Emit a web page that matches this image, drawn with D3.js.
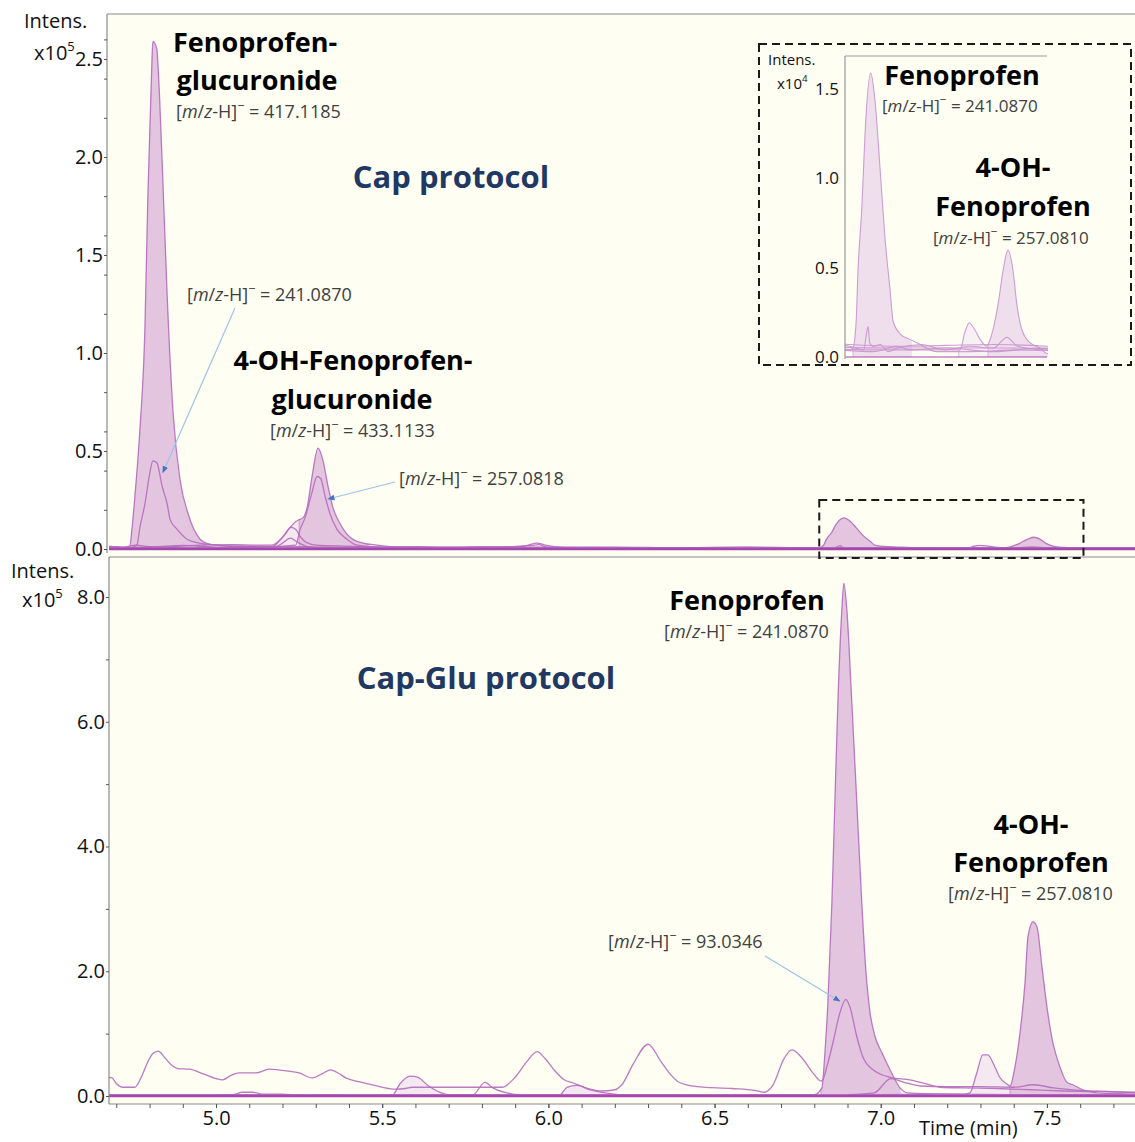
<!DOCTYPE html>
<html>
<head>
<meta charset="utf-8">
<script src="https://cdn.jsdelivr.net/npm/d3@7"></script>
<style>
  body { margin: 0; background: #ffffff; }
  svg { display: block; }
  text { font-family: "Open Sans", "DejaVu Sans", sans-serif; }
</style>
</head>
<body>
<svg id="chart" width="1135" height="1142"></svg>
<script>
// ---- data: [time (min), intensity (x10^5)] ----

// Cap protocol (top panel)
const capEic417 = [[4.678,0.01],[4.70,0.012],[4.72,0.008],[4.74,0.01],[4.747,0.1],[4.756,0.27],[4.771,0.61],[4.786,1.12],[4.795,1.8],[4.807,2.48],[4.81,2.59],[4.822,2.55],[4.825,2.48],[4.838,1.97],[4.853,1.29],[4.871,0.69],[4.892,0.35],[4.916,0.18],[4.952,0.05],[4.97,0.03],[5.0,0.02],[5.1,0.015],[5.2,0.012],[5.3,0.01],[5.5,0.008],[5.8,0.01],[6.2,0.006],[6.6,0.008],[7.0,0.006],[7.4,0.007],[7.765,0.005]];
const capEic241 = [[4.678,0.005],[4.74,0.005],[4.762,0.02],[4.771,0.11],[4.786,0.23],[4.80,0.38],[4.81,0.45],[4.822,0.44],[4.838,0.32],[4.853,0.23],[4.862,0.15],[4.883,0.1],[4.913,0.05],[4.95,0.03],[5.0,0.02],[5.1,0.01],[5.3,0.008],[5.6,0.006],[6.0,0.008],[6.4,0.005],[6.7,0.004],[6.8,0.004],[6.815,0.005],[6.828,0.019],[6.836,0.048],[6.853,0.086],[6.865,0.124],[6.889,0.159],[6.907,0.143],[6.928,0.105],[6.948,0.067],[6.969,0.038],[6.982,0.02],[7.011,0.013],[7.05,0.01],[7.081,0.008],[7.165,0.003],[7.3,0.003],[7.5,0.004],[7.765,0.003]];
const capEic433 = [[4.678,0.008],[4.8,0.01],[4.9,0.015],[4.95,0.02],[5.05,0.022],[5.12,0.02],[5.168,0.02],[5.2,0.06],[5.223,0.11],[5.24,0.14],[5.25,0.15],[5.262,0.16],[5.274,0.21],[5.289,0.37],[5.307,0.515],[5.322,0.45],[5.337,0.32],[5.352,0.21],[5.373,0.13],[5.403,0.06],[5.442,0.03],[5.484,0.02],[5.55,0.01],[5.7,0.008],[6.0,0.006],[6.5,0.006],[7.0,0.005],[7.5,0.005],[7.765,0.004]];
const capEic257 = [[4.678,0.005],[4.9,0.006],[5.1,0.008],[5.24,0.02],[5.253,0.1],[5.268,0.16],[5.289,0.29],[5.304,0.37],[5.315,0.36],[5.328,0.27],[5.343,0.18],[5.364,0.1],[5.394,0.05],[5.424,0.02],[5.5,0.01],[5.7,0.006],[5.9,0.008],[6.2,0.005],[6.6,0.005],[6.9,0.004],[7.1,0.004],[7.2,0.004],[7.26,0.004],[7.281,0.014],[7.298,0.019],[7.323,0.015],[7.343,0.01],[7.372,0.006],[7.377,0.007],[7.397,0.015],[7.418,0.029],[7.439,0.048],[7.46,0.06],[7.481,0.048],[7.497,0.029],[7.518,0.015],[7.551,0.008],[7.593,0.005],[7.622,0.002],[7.765,0.003]];
const capNoiseA = [[4.678,0.015],[4.72,0.01],[4.76,0.02],[4.8,0.012],[4.9,0.018],[5.0,0.01],[5.1,0.012],[5.168,0.01],[5.19,0.04],[5.205,0.07],[5.225,0.11],[5.24,0.1],[5.255,0.06],[5.27,0.035],[5.3,0.02],[5.4,0.015],[5.5,0.01],[5.6,0.012],[5.7,0.008],[5.8,0.012],[5.9,0.01],[5.94,0.02],[5.966,0.03],[5.99,0.02],[6.05,0.008],[6.2,0.01],[6.4,0.006],[6.6,0.009],[6.8,0.006],[6.86,0.004],[6.87,0.012],[6.878,0.017],[6.885,0.008],[6.9,0.006],[6.93,0.007],[6.96,0.003],[7.0,0.005],[7.1,0.007],[7.2,0.004],[7.3,0.006],[7.4,0.005],[7.455,0.011],[7.5,0.006],[7.6,0.004],[7.765,0.006]];
const capNoiseB = [[4.678,0.005],[4.8,0.008],[5.0,0.004],[5.17,0.005],[5.2,0.03],[5.223,0.055],[5.245,0.035],[5.27,0.015],[5.3,0.006],[5.5,0.005],[5.7,0.004],[5.95,0.018],[5.97,0.022],[6.0,0.008],[6.3,0.004],[6.6,0.005],[6.9,0.003],[7.0,0.006],[7.05,0.004],[7.2,0.005],[7.4,0.003],[7.6,0.005],[7.765,0.004]];

// Cap-Glu protocol (bottom panel)
const gluEic241 = [[4.678,0.02],[5.0,0.02],[5.5,0.02],[6.0,0.02],[6.5,0.02],[6.8,0.02],[6.823,0.13],[6.832,0.69],[6.841,1.49],[6.853,3.09],[6.862,4.7],[6.871,6.3],[6.883,7.79],[6.889,8.22],[6.898,7.79],[6.913,6.3],[6.928,4.7],[6.943,3.09],[6.955,2.02],[6.968,1.33],[6.983,0.95],[7.004,0.69],[7.028,0.42],[7.058,0.13],[7.08,0.05],[7.2,0.03],[7.5,0.02],[7.765,0.02]];
const gluEic257 = [[4.678,0.01],[5.0,0.01],[5.5,0.01],[6.0,0.01],[6.5,0.01],[7.0,0.02],[7.2,0.03],[7.25,0.03],[7.268,0.05],[7.289,0.37],[7.307,0.66],[7.322,0.66],[7.343,0.47],[7.358,0.3],[7.383,0.18],[7.389,0.16],[7.404,0.47],[7.419,1.01],[7.434,1.81],[7.443,2.55],[7.458,2.79],[7.47,2.71],[7.485,2.07],[7.5,1.43],[7.518,0.85],[7.539,0.47],[7.56,0.22],[7.578,0.18],[7.608,0.1],[7.65,0.05],[7.7,0.04],[7.765,0.03]];
const gluEic093 = [[4.678,0.3],[4.687,0.29],[4.70,0.2],[4.72,0.14],[4.756,0.14],[4.775,0.3],[4.795,0.55],[4.81,0.68],[4.826,0.72],[4.845,0.62],[4.865,0.5],[4.885,0.44],[4.92,0.43],[4.96,0.36],[5.0,0.28],[5.02,0.26],[5.045,0.33],[5.07,0.37],[5.12,0.37],[5.16,0.43],[5.2,0.41],[5.25,0.37],[5.29,0.29],[5.32,0.36],[5.345,0.42],[5.37,0.36],[5.39,0.29],[5.43,0.23],[5.47,0.18],[5.54,0.11],[5.57,0.12],[5.59,0.14],[5.65,0.14],[5.72,0.14],[5.8,0.14],[5.86,0.14],[5.9,0.3],[5.935,0.55],[5.966,0.71],[5.99,0.6],[6.02,0.4],[6.045,0.27],[6.08,0.2],[6.12,0.12],[6.16,0.08],[6.2,0.1],[6.221,0.18],[6.255,0.51],[6.3,0.83],[6.339,0.55],[6.37,0.33],[6.393,0.22],[6.447,0.15],[6.552,0.12],[6.62,0.09],[6.649,0.06],[6.676,0.18],[6.709,0.6],[6.733,0.74],[6.76,0.63],[6.799,0.35],[6.82,0.24],[6.829,0.3],[6.838,0.47],[6.856,0.85],[6.877,1.33],[6.895,1.55],[6.907,1.43],[6.928,0.95],[6.946,0.63],[6.977,0.42],[7.028,0.3],[7.088,0.26],[7.148,0.18],[7.178,0.14],[7.25,0.13],[7.35,0.12],[7.45,0.1],[7.55,0.08],[7.65,0.07],[7.765,0.06]];
const gluNoiseA = [[4.678,0.01],[5.0,0.01],[5.05,0.02],[5.08,0.06],[5.11,0.06],[5.14,0.03],[5.2,0.03],[5.25,0.01],[5.35,0.02],[5.4,0.01],[5.53,0.01],[5.554,0.2],[5.584,0.32],[5.608,0.3],[5.635,0.18],[5.665,0.08],[5.704,0.02],[5.773,0.02],[5.809,0.22],[5.833,0.13],[5.875,0.05],[5.915,0.02],[6.035,0.02],[6.056,0.14],[6.086,0.17],[6.125,0.1],[6.17,0.05],[6.22,0.02],[6.5,0.01],[7.0,0.01],[7.5,0.01],[7.765,0.01]];
const gluNoiseB = [[6.9,0.02],[6.98,0.05],[7.03,0.28],[7.07,0.22],[7.12,0.16],[7.2,0.15],[7.3,0.15],[7.4,0.14],[7.46,0.18],[7.52,0.13],[7.6,0.09],[7.7,0.07],[7.765,0.05]];

// integrated (filled) regions: [trace, start, end]
const capDarkFills = [[capEic417,4.74,4.97],[capEic433,5.25,5.46],[capEic241,6.815,7.06],[capEic257,7.377,7.63]];
const capLightFills = [[capEic433,4.95,5.25],[capEic257,7.255,7.377]];
const gluDarkFills = [[gluEic241,6.82,7.06],[gluEic257,7.389,7.65]];
const gluLightFills = [[gluEic257,7.26,7.389],[gluNoiseA,5.53,5.70],[gluNoiseA,6.03,6.2]];

const capTraces = [capNoiseB, capNoiseA, capEic433, capEic257, capEic241, capEic417];
const gluTraces = [gluNoiseA, gluNoiseB, gluEic093, gluEic257, gluEic241];

// axis ticks
const timeTicks = [5.0,5.5,6.0,6.5,7.0,7.5];
const timeMinor = d3.range(4.7, 7.76, 0.1);
const capTicks = [0,0.5,1.0,1.5,2.0,2.5];
const capMinor = d3.range(0, 2.7, 0.2);
const gluTicks = [0,2,4,6,8];
const gluMinor = [1,3,5,7];
const insetTicks = [0,0.05,0.10,0.15];

// ---- colours ----
const plotBg = '#fefef3';
const lineColor = '#b56bbd';
const darkFill = '#e3c5df';
const lightFill = '#f4e9f1';
const baseColor = '#a447ae';

const svg = d3.select('#chart');

// scales
const x = d3.scaleLinear().domain([4.678, 7.765]).range([109, 1135]);
const yCap = d3.scaleLinear().domain([0, 2.5]).range([549, 59]);
const yGlu = d3.scaleLinear().domain([0, 8]).range([1096, 597]);
const xIn = d3.scaleLinear().domain([6.782, 7.622]).range([845, 1047]);
const yIn = d3.scaleLinear().domain([0, 0.15]).range([357, 89]);

// piecewise segment of a trace between t0 and t1
function segment(trace, t0, t1) {
    let f = d3.scaleLinear().domain(trace.map(d => d[0])).range(trace.map(d => d[1]));
    let inner = trace.filter(d => d[0] > t0 && d[0] < t1);
    return [[t0, f(t0)]].concat(inner, [[t1, f(t1)]]);
}

let defs = svg.append('defs');
function clip(id, x0, y0, w, h) {
    defs.append('clipPath').attr('id', id)
        .append('rect').attr('x', x0).attr('y', y0).attr('width', w).attr('height', h);
}
clip('capClip', 107, 14, 1028, 542);
clip('gluClip', 109, 557, 1026, 547);
clip('inClip', 845, 56, 203, 304);

defs.append('marker')
    .attr('id', 'arrow')
    .attr('viewBox', '0 0 10 10')
    .attr('refX', 9).attr('refY', 5)
    .attr('markerWidth', 6).attr('markerHeight', 6)
    .attr('orient', 'auto')
    .append('path').attr('d', 'M0,1 L10,5 L0,9 Z').attr('fill', '#4472c4');

// Draws one chromatogram panel
function drawPanel(g, xs, ys, traces, darkFills, lightFills, opts) {
    let area = d3.area().curve(d3.curveMonotoneX)
        .x(d => xs(d[0])).y0(ys(0)).y1(d => ys(d[1]));
    let line = d3.line().curve(d3.curveMonotoneX)
        .x(d => xs(d[0])).y(d => ys(d[1]));

    g.selectAll('path.light').data(lightFills).enter().append('path')
        .attr('d', d => area(segment(d[0], d[1], d[2])))
        .attr('fill', opts.light);
    g.selectAll('path.dark').data(darkFills).enter().append('path')
        .attr('d', d => area(segment(d[0], d[1], d[2])))
        .attr('fill', opts.dark);
    // vertical edges of the integration regions
    g.selectAll('line.edge').data(darkFills.concat(lightFills)).enter().append('line')
        .attr('x1', d => xs(d[1])).attr('x2', d => xs(d[1]))
        .attr('y1', ys(0)).attr('y2', d => ys(segment(d[0], d[1], d[2])[0][1]))
        .attr('stroke', opts.line).attr('stroke-width', 0.8).attr('opacity', 0.7);

    g.selectAll('path.trace').data(traces).enter().append('path')
        .attr('d', d => line(d))
        .attr('fill', 'none')
        .attr('stroke', opts.line)
        .attr('stroke-width', opts.width)
        .attr('opacity', 0.9);

    g.append('line')
        .attr('x1', xs.range()[0]).attr('x2', xs.range()[1])
        .attr('y1', ys(0)).attr('y2', ys(0))
        .attr('stroke', baseColor).attr('stroke-width', opts.base);
}

// backgrounds
svg.append('rect').attr('x', 107).attr('y', 14).attr('width', 1028).attr('height', 542).attr('fill', plotBg);
svg.append('rect').attr('x', 109).attr('y', 557).attr('width', 1026).attr('height', 547).attr('fill', plotBg);

let capG = svg.append('g').attr('clip-path', 'url(#capClip)');
drawPanel(capG, x, yCap, capTraces, capDarkFills, capLightFills,
    {dark: darkFill, light: lightFill, line: lineColor, width: 1.3, base: 2.5});

let gluG = svg.append('g').attr('clip-path', 'url(#gluClip)');
drawPanel(gluG, x, yGlu, gluTraces, gluDarkFills, gluLightFills,
    {dark: darkFill, light: lightFill, line: lineColor, width: 1.3, base: 2.5});

// frames
const frame = '#8a8a8a';
svg.append('line').attr('x1', 107).attr('x2', 1135).attr('y1', 14).attr('y2', 14).attr('stroke', frame).attr('stroke-width', 1.2);
svg.append('line').attr('x1', 107).attr('x2', 107).attr('y1', 14).attr('y2', 553).attr('stroke', frame).attr('stroke-width', 1.2);
svg.append('line').attr('x1', 109).attr('x2', 1135).attr('y1', 557).attr('y2', 557).attr('stroke', frame).attr('stroke-width', 1.2);
svg.append('line').attr('x1', 109).attr('x2', 109).attr('y1', 557).attr('y2', 1104).attr('stroke', frame).attr('stroke-width', 1.2);

// axes
function styleAxis(sel, size) {
    sel.select('.domain').remove();
    sel.selectAll('line').attr('stroke', '#555');
    sel.selectAll('text').attr('font-size', size).attr('fill', '#111')
        .attr('font-family', '"Open Sans", sans-serif');
}

svg.append('g').attr('transform', 'translate(107,0)')
    .call(d3.axisLeft(yCap).tickValues(capMinor).tickFormat('').tickSize(3))
    .call(styleAxis, 20);
svg.append('g').attr('transform', 'translate(107,0)')
    .call(d3.axisLeft(yCap).tickValues(capTicks).tickFormat(d3.format('.1f')).tickSize(3).tickPadding(1))
    .call(styleAxis, 20);

svg.append('g').attr('transform', 'translate(109,0)')
    .call(d3.axisLeft(yGlu).tickValues(gluMinor).tickFormat('').tickSize(3))
    .call(styleAxis, 20);
svg.append('g').attr('transform', 'translate(109,0)')
    .call(d3.axisLeft(yGlu).tickValues(gluTicks).tickFormat(d3.format('.1f')).tickSize(3).tickPadding(1))
    .call(styleAxis, 20);

let xAxisG = svg.append('g').attr('transform', 'translate(0,1104)');
xAxisG.append('line').attr('x1', 109).attr('x2', 1135).attr('y1', 0).attr('y2', 0)
    .attr('stroke', frame).attr('stroke-width', 1.2);
xAxisG.append('g')
    .call(d3.axisBottom(x).tickValues(timeMinor).tickFormat('').tickSize(4))
    .call(styleAxis, 20);
xAxisG.append('g')
    .call(d3.axisBottom(x).tickValues(timeTicks).tickFormat(d3.format('.1f')).tickSize(4).tickPadding(3))
    .call(styleAxis, 20);

// axis titles
function intensLabel(x0, y0, x1, y1, exp, size) {
    svg.append('text').attr('x', x0).attr('y', y0).attr('font-size', size).attr('fill', '#111').text('Intens.');
    let t = svg.append('text').attr('x', x1).attr('y', y1).attr('font-size', size).attr('fill', '#111');
    t.append('tspan').text('x10');
    t.append('tspan').attr('dy', -size * 0.45).attr('font-size', size * 0.65).text(exp);
}
intensLabel(24, 28, 34, 60, '5', 20);
intensLabel(11, 578, 22, 607, '5', 20);
svg.append('text').attr('x', 919).attr('y', 1135).attr('font-size', 20).attr('fill', '#111').text('Time (min)');

// ---- inset ----
svg.append('rect').attr('x', 759).attr('y', 44).attr('width', 372).attr('height', 321).attr('fill', plotBg);
let inG = svg.append('g').attr('clip-path', 'url(#inClip)');
drawPanel(inG, xIn, yIn, capTraces, capDarkFills, capLightFills,
    {dark: '#efdfec', light: '#f7f0f4', line: '#c993cd', width: 1.1, base: 1.2});
svg.append('line').attr('x1', 845).attr('x2', 845).attr('y1', 56).attr('y2', 359).attr('stroke', '#9a9a9a').attr('stroke-width', 1.2);
svg.append('line').attr('x1', 845).attr('x2', 1047).attr('y1', 56).attr('y2', 56).attr('stroke', '#9a9a9a').attr('stroke-width', 1.2);
svg.append('g').attr('transform', 'translate(845,0)')
    .call(d3.axisLeft(yIn).tickValues(insetTicks).tickFormat(d => (d * 10).toFixed(1)).tickSize(0).tickPadding(6))
    .call(styleAxis, 17);
intensLabel(768, 65, 777, 89, '4', 15);

// dashed boxes
svg.append('rect').attr('x', 759).attr('y', 44).attr('width', 372).attr('height', 321)
    .attr('fill', 'none').attr('stroke', '#1a1a1a').attr('stroke-width', 2).attr('stroke-dasharray', '8,5');
svg.append('rect').attr('x', x(6.815)).attr('y', 500).attr('width', x(7.61) - x(6.815)).attr('height', 58)
    .attr('fill', 'none').attr('stroke', '#1a1a1a').attr('stroke-width', 2).attr('stroke-dasharray', '8,5');

// ---- labels ----
function bold(x0, y0, txt, anchor) {
    svg.append('text').attr('x', x0).attr('y', y0).attr('text-anchor', anchor || 'start')
        .attr('font-size', 27).attr('font-weight', 'bold').attr('fill', '#000').text(txt);
}
function mzLabel(x0, y0, value, size, anchor) {
    let t = svg.append('text').attr('x', x0).attr('y', y0).attr('font-size', size)
        .attr('fill', '#404040').attr('text-anchor', anchor || 'start');
    t.append('tspan').text('[');
    t.append('tspan').attr('font-style', 'italic').text('m');
    t.append('tspan').text('/');
    t.append('tspan').attr('font-style', 'italic').text('z');
    t.append('tspan').text('-H]');
    t.append('tspan').attr('dy', -size * 0.45).attr('font-size', size * 0.7).text('\u2212');
    t.append('tspan').attr('dy', size * 0.45).text(' = ' + value);
}
function protocol(x0, y0, txt) {
    svg.append('text').attr('x', x0).attr('y', y0).attr('text-anchor', 'middle')
        .attr('font-size', 31).attr('font-weight', 'bold').attr('fill', '#1f3864').text(txt);
}

bold(173, 52, 'Fenoprofen-');
bold(257, 90, 'glucuronide', 'middle');
mzLabel(176, 118, '417.1185', 18);
protocol(451, 188, 'Cap protocol');
bold(353, 370, '4-OH-Fenoprofen-', 'middle');
bold(352, 409, 'glucuronide', 'middle');
mzLabel(270, 437, '433.1133', 18);
mzLabel(187, 301, '241.0870', 18);
mzLabel(399, 485, '257.0818', 18);

bold(962, 85, 'Fenoprofen', 'middle');
mzLabel(882, 112, '241.0870', 17);
bold(1013, 177, '4-OH-', 'middle');
bold(1013, 216, 'Fenoprofen', 'middle');
mzLabel(933, 244, '257.0810', 17);

bold(747, 610, 'Fenoprofen', 'middle');
mzLabel(664, 638, '241.0870', 18);
protocol(486, 689, 'Cap-Glu protocol');
bold(1031, 834, '4-OH-', 'middle');
bold(1031, 872, 'Fenoprofen', 'middle');
mzLabel(948, 900, '257.0810', 18);
mzLabel(608, 948, '93.0346', 18);

// arrows
function arrow(x0, y0, x1, y1) {
    svg.append('line').attr('x1', x0).attr('y1', y0).attr('x2', x1).attr('y2', y1)
        .attr('stroke', '#9dc3e6').attr('stroke-width', 1.2).attr('marker-end', 'url(#arrow)');
}
arrow(235, 308, x(4.84), yCap(0.39));
arrow(395, 482, x(5.337), yCap(0.255));
arrow(765, 956, x(6.877), yGlu(1.52));
</script>
</body>
</html>
